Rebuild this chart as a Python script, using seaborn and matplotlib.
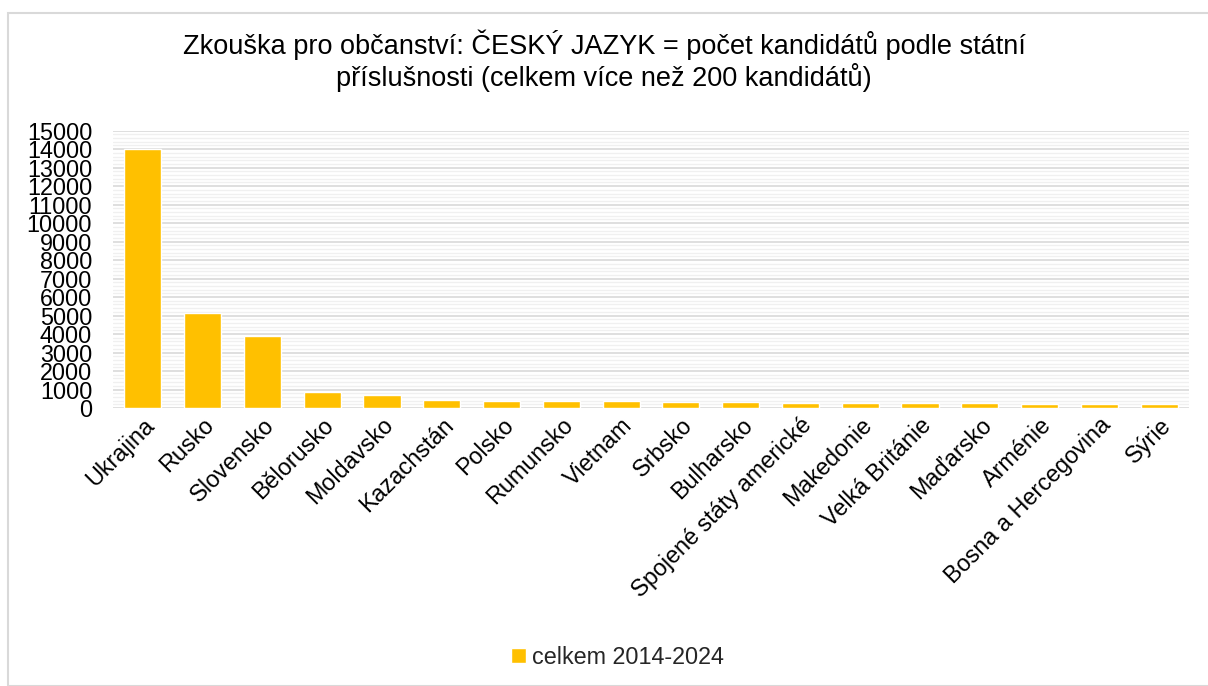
import matplotlib
matplotlib.use("Agg")
import matplotlib.pyplot as plt
import seaborn as sns
import pandas as pd
from matplotlib.ticker import MultipleLocator
from matplotlib.patches import Rectangle

countries = ["Ukrajina", "Rusko", "Slovensko", "Bělorusko", "Moldavsko", "Kazachstán",
             "Polsko", "Rumunsko", "Vietnam", "Srbsko", "Bulharsko",
             "Spojené státy americké", "Makedonie", "Velká Británie", "Maďarsko",
             "Arménie", "Bosna a Hercegovina", "Sýrie"]
values = [14000, 5130, 3870, 890, 700, 410, 375, 360, 355, 320, 310,
          290, 285, 250, 245, 235, 225, 205]
series_name = "celkem 2014-2024"
title = "Zkouška pro občanství: ČESKÝ JAZYK = počet kandidátů podle státní\npříslušnosti (celkem více než 200 kandidátů)"

sns.set_theme(style="white")
plt.rcParams['font.family'] = ['Liberation Sans', 'DejaVu Sans']

df = pd.DataFrame({"country": countries, "value": values})

fig = plt.figure(figsize=(12.08, 6.86), dpi=100)
ax = fig.add_axes([113/1208, 1-408/686, (1189-113)/1208, (408-130.7)/686])

sns.barplot(data=df, x="country", y="value", color="#FFC000", width=0.62,
            saturation=1, ax=ax, label=series_name, zorder=3)

ax.set_ylim(0, 15000)
ax.yaxis.set_major_locator(MultipleLocator(1000))
ax.yaxis.set_minor_locator(MultipleLocator(200))
ax.grid(which="major", axis="y", color="#D9D9D9", linewidth=1.2, zorder=0)
ax.grid(which="minor", axis="y", color="#F0F0F0", linewidth=1.0, zorder=0)
ax.set_axisbelow(True)
for s in ax.spines.values():
    s.set_visible(False)
ax.set_xlabel("")
ax.set_ylabel("")
ax.tick_params(axis="y", which="both", length=0, pad=15, labelsize=16.8, labelcolor="#000000")
ax.tick_params(axis="x", length=0, pad=4, labelsize=16.8, labelcolor="#000000")
plt.setp(ax.get_xticklabels(), rotation=45, ha="right", rotation_mode="anchor")
ax.set_xlim(-0.5, len(countries) - 0.5)

fig.text(0.5, 1-61/686, title, ha="center", va="center", fontsize=19.5, color="#000000",
         linespacing=1.15)

handles, labels = ax.get_legend_handles_labels()
if ax.get_legend() is not None:
    ax.get_legend().remove()
fig.legend(handles, labels, loc="center", bbox_to_anchor=(617/1208, 1-657/686),
           frameon=False, fontsize=16.8, handlelength=0.65, handleheight=0.65,
           handletextpad=0.25)

fig.patches.append(Rectangle((8/1208, 0), 1.0, 1-13/686, transform=fig.transFigure,
                             fill=False, edgecolor="#D9D9D9", linewidth=1.5))

fig.savefig("out.png", dpi=100)
